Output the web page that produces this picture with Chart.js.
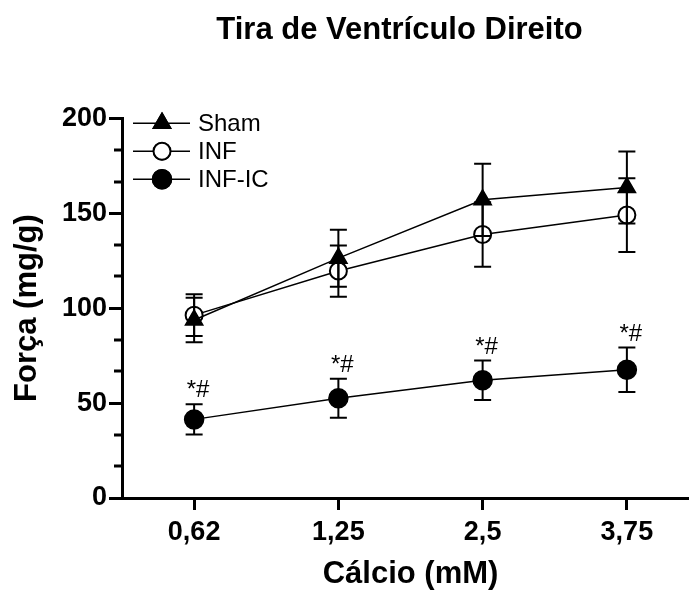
<!DOCTYPE html>
<html>
<head>
<meta charset="utf-8">
<script src="https://cdn.jsdelivr.net/npm/chart.js@4/dist/chart.umd.min.js"></script>
<style>
  html, body { margin: 0; padding: 0; background: #fff; }
  #wrap { width: 689px; height: 590px; }
</style>
</head>
<body>
<div id="wrap"><canvas id="c" width="689" height="590"></canvas></div>
<script>
// ---- data ----
const categories = ['0,62', '1,25', '2,5', '3,75'];
const shamValues = [93.7, 126.3, 157, 163.5];
const shamErrors = [11.7, 15, 19, 19];
const infValues = [96.3, 119.5, 138.8, 149];
const infErrors = [11, 13.5, 17, 19.4];
const infIcValues = [41.4, 52.5, 62, 67.5];
const infIcErrors = [8, 10.3, 10.4, 11.7];
const infIcMarks = ['*#', '*#', '*#', '*#'];
const seriesNames = ['Sham', 'INF', 'INF-IC'];
const yMajorTicks = [0, 50, 100, 150, 200];

const FONT = "'Liberation Sans', Arial, Helvetica, sans-serif";
const errorSets = [shamErrors, infErrors, infIcErrors];

// the x axis runs off the right edge of the picture in the original
const RIGHT_OVERHANG = 10;
const TITLE_SHIFT = 6;

const layoutTweak = {
  id: 'layoutTweak',
  afterLayout(chart) {
    const x = chart.scales.x;
    chart.chartArea.right += RIGHT_OVERHANG;
    chart.chartArea.width += RIGHT_OVERHANG;
    x.right += RIGHT_OVERHANG;
    x.width += RIGHT_OVERHANG;
    x.configure();
    if (chart.titleBlock) {
      chart.titleBlock.left -= TITLE_SHIFT;
      chart.titleBlock.right -= TITLE_SHIFT;
    }
  }
};

const errorBarPlugin = {
  id: 'errorBars',
  afterDatasetsDraw(chart) {
    const ctx = chart.ctx;
    const y = chart.scales.y;
    ctx.save();
    ctx.strokeStyle = '#000';
    ctx.lineWidth = 2;
    chart.data.datasets.forEach((ds, di) => {
      const meta = chart.getDatasetMeta(di);
      const errs = errorSets[di];
      meta.data.forEach((pt, i) => {
        const v = ds.data[i];
        const e = errs[i];
        const yt = y.getPixelForValue(v + e);
        const yb = y.getPixelForValue(v - e);
        const x = pt.x;
        const hw = 8.5;
        ctx.beginPath();
        ctx.moveTo(x, yt); ctx.lineTo(x, yb);
        ctx.moveTo(x - hw, yt); ctx.lineTo(x + hw, yt);
        ctx.moveTo(x - hw, yb); ctx.lineTo(x + hw, yb);
        ctx.stroke();
      });
    });
    // significance marks above INF-IC
    const meta2 = chart.getDatasetMeta(2);
    ctx.fillStyle = '#000';
    ctx.font = '24px ' + FONT;
    ctx.textAlign = 'center';
    ctx.textBaseline = 'alphabetic';
    meta2.data.forEach((pt, i) => {
      const top = y.getPixelForValue(infIcValues[i] + infIcErrors[i]);
      ctx.fillText(infIcMarks[i], pt.x + 4, top - 7);
    });
    ctx.restore();
  }
};

const minorTickPlugin = {
  id: 'minorTicks',
  afterDraw(chart) {
    const ctx = chart.ctx;
    const y = chart.scales.y;
    const left = chart.chartArea.left;
    ctx.save();
    ctx.strokeStyle = '#000';
    ctx.lineWidth = 3;
    for (let k = 0; k < yMajorTicks.length - 1; k++) {
      const a = yMajorTicks[k], b = yMajorTicks[k + 1];
      for (let j = 1; j <= 2; j++) {
        const v = a + (b - a) * j / 3;
        const py = Math.round(y.getPixelForValue(v));
        ctx.beginPath();
        ctx.moveTo(left - 8, py);
        ctx.lineTo(left, py);
        ctx.stroke();
      }
    }
    ctx.restore();
  }
};

const legendPlugin = {
  id: 'customLegend',
  afterDraw(chart) {
    const ctx = chart.ctx;
    const left = chart.chartArea.left;
    const top = chart.chartArea.top;
    ctx.save();
    chart.data.datasets.forEach((ds, i) => {
      const cy = top + 5 + i * 28;
      ctx.strokeStyle = '#000';
      ctx.lineWidth = 1.5;
      ctx.beginPath();
      ctx.moveTo(left + 11, cy);
      ctx.lineTo(left + 68, cy);
      ctx.stroke();
      Chart.helpers.drawPoint(ctx, {
        pointStyle: ds.pointStyle,
        radius: ds.pointRadius,
        rotation: 0,
        borderWidth: ds.pointBorderWidth
      }, left + 40, cy);
      ctx.fillStyle = ds.pointBackgroundColor;
      ctx.strokeStyle = ds.pointBorderColor;
      ctx.lineWidth = ds.pointBorderWidth;
      ctx.fill();
      ctx.stroke();
      ctx.fillStyle = '#000';
      ctx.font = '24px ' + FONT;
      ctx.textAlign = 'left';
      ctx.textBaseline = 'middle';
      ctx.fillText(ds.label, left + 76, cy + 1);
    });
    ctx.restore();
  }
};

new Chart(document.getElementById('c'), {
  type: 'line',
  data: {
    labels: categories,
    datasets: [
      { label: seriesNames[0], data: shamValues, borderColor: '#000', borderWidth: 1.5,
        pointStyle: 'triangle', pointRadius: 10, pointBackgroundColor: '#000', pointBorderColor: '#000', pointBorderWidth: 1.5, tension: 0 },
      { label: seriesNames[1], data: infValues, borderColor: '#000', borderWidth: 1.5,
        pointStyle: 'circle', pointRadius: 8.5, pointBackgroundColor: '#fff', pointBorderColor: '#000', pointBorderWidth: 2, tension: 0 },
      { label: seriesNames[2], data: infIcValues, borderColor: '#000', borderWidth: 1.5,
        pointStyle: 'circle', pointRadius: 9.5, pointBackgroundColor: '#000', pointBorderColor: '#000', pointBorderWidth: 1.5, tension: 0 }
    ]
  },
  options: {
    responsive: false,
    animation: false,
    devicePixelRatio: 1,
    layout: { autoPadding: false, padding: { left: 0, right: 0, top: 0, bottom: 0 } },
    plugins: {
      legend: { display: false },
      tooltip: { enabled: false },
      title: {
        display: true,
        text: 'Tira de Ventrículo Direito',
        color: '#000',
        fullSize: false,
        font: { family: FONT, size: 31, weight: 'bold' },
        padding: { top: 12, bottom: 69 }
      }
    },
    scales: {
      x: {
        type: 'category',
        offset: true,
        afterFit(scale) { scale.height = 92; },
        border: { display: true, color: '#000', width: 3 },
        grid: { display: true, drawOnChartArea: false, drawTicks: true, tickLength: 12, tickColor: '#000', tickWidth: 3, offset: false },
        ticks: { color: '#000', font: { family: FONT, size: 27, weight: 'bold' }, padding: 6, maxRotation: 0 },
        title: { display: true, text: 'Cálcio (mM)', color: '#000', font: { family: FONT, size: 31, weight: 'bold', lineHeight: 1.0 }, padding: { top: 2, bottom: 0 } }
      },
      y: {
        min: 0, max: 200,
        afterFit(scale) { scale.width = 122; },
        border: { display: true, color: '#000', width: 3 },
        grid: { display: true, drawOnChartArea: false, drawTicks: true, tickLength: 13, tickColor: '#000', tickWidth: 3 },
        ticks: { stepSize: 50, color: '#000', font: { family: FONT, size: 27, weight: 'bold' }, padding: 2 },
        title: { display: true, text: 'Força (mg/g)', color: '#000', font: { family: FONT, size: 31, weight: 'bold' }, padding: { top: 9, bottom: 0 } }
      }
    }
  },
  plugins: [layoutTweak, errorBarPlugin, minorTickPlugin, legendPlugin]
});
</script>
</body>
</html>
